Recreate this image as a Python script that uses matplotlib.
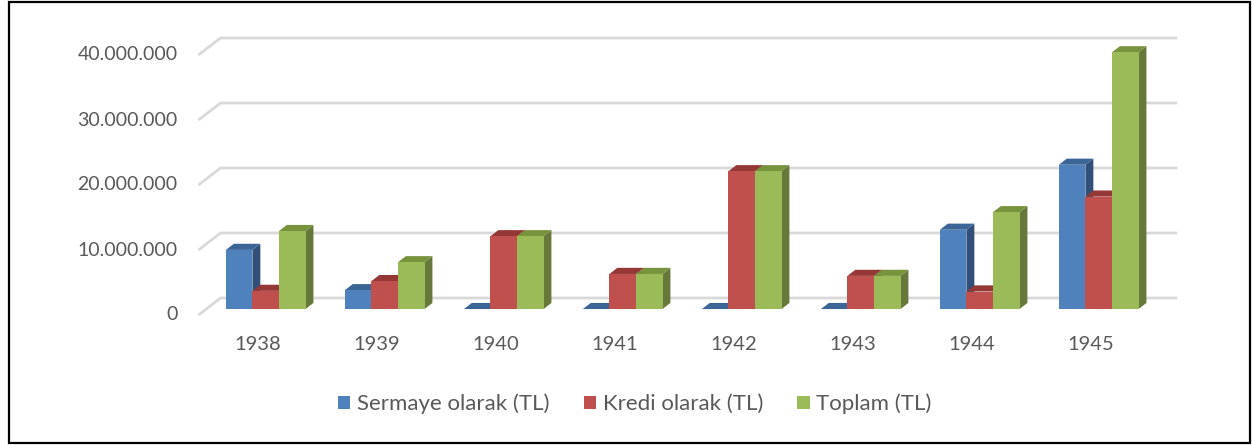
import matplotlib.pyplot as plt
from matplotlib.patches import Polygon, Patch, Rectangle
import numpy as np

plt.rcParams['font.family'] = ['Lato', 'DejaVu Sans']

years = ['1938', '1939', '1940', '1941', '1942', '1943', '1944', '1945']
sermaye = [9.1e6, 2.9e6, 0, 0, 0, 0, 12.2e6, 22.2e6]
kredi = [2.8e6, 4.3e6, 11.2e6, 5.4e6, 21.2e6, 5.1e6, 2.7e6, 17.3e6]
toplam = [12.0e6, 7.2e6, 11.2e6, 5.4e6, 21.2e6, 5.1e6, 14.9e6, 39.5e6]
series_names = ['Sermaye olarak (TL)', 'Kredi olarak (TL)', 'Toplam (TL)']
yticks = [0, 10e6, 20e6, 30e6, 40e6]
ytick_labels = ['0', '10.000.000', '20.000.000', '30.000.000', '40.000.000']

# front / top / side colours per series
front_c = ['#4F81BD', '#C0504D', '#9BBB59']
top_c = ['#3C6597', '#943735', '#77933C']
side_c = ['#30507A', '#7E2E2C', '#66793A']

# oblique projection: one unit of depth moves right and up
ddx = 22 / 119.0
ddy = 17 / 65.0 * 1e7
d0 = 0.35      # front of bars inside floor
bd = 0.36      # depth of bars
w = 0.223      # bar width

fig = plt.figure(figsize=(12.52, 4.45), dpi=100)
ax = fig.add_axes([0, 0, 1, 1])
ax.set_xlim(-258 / 119.0, (1252 - 258) / 119.0)
ax.set_ylim(-130 / 65.0 * 1e7, 315 / 65.0 * 1e7)
ax.axis('off')

# gridlines: side wall diagonal + back wall
x_left, x_right = -0.5, 7.54
for v in yticks:
    ax.plot([x_left, x_left + ddx, x_right + ddx], [v, v + ddy, v + ddy],
            color='#D9D9D9', lw=2, zorder=1, solid_capstyle='butt')

for k, lab in zip(yticks, ytick_labels):
    ax.annotate(lab, (x_left, k), xytext=(-15, 0), textcoords='offset points',
                ha='right', va='center', fontsize=14, color='#595959')

for i, y in enumerate(years):
    ax.annotate(y, (i, 0), xytext=(0, -21), textcoords='offset points',
                ha='center', va='center', fontsize=14.5, color='#595959')

data = [sermaye, kredi, toplam]
z = 2
xs = np.arange(len(years))
for i in xs:
    for s in range(3):
        v = data[s][i]
        x0 = i + d0 * ddx + (s - 1.5) * w
        x1 = x0 + w
        yb = d0 * ddy
        ox, oy = bd * ddx, bd * ddy
        side = Polygon([(x1, yb), (x1 + ox, yb + oy), (x1 + ox, yb + v + oy), (x1, yb + v)],
                       closed=True, fc=side_c[s], lw=0, zorder=z)
        top = Polygon([(x0, yb + v), (x1, yb + v), (x1 + ox, yb + v + oy), (x0 + ox, yb + v + oy)],
                      closed=True, fc=top_c[s], lw=0, zorder=z + 1)
        ax.add_patch(side)
        ax.add_patch(top)
        ax.bar(x0, v, width=w, bottom=yb, align='edge', color=front_c[s], lw=0, zorder=z + 2)
        z += 3

handles = [Patch(fc=c, lw=0) for c in front_c]
fig.legend(handles, series_names, loc='center', bbox_to_anchor=(0.507, 1 - 404 / 445.0),
           ncol=3, frameon=False, fontsize=16, handlelength=0.55, handleheight=0.55,
           handletextpad=0.3, columnspacing=1.55, labelcolor='#595959')

fig.add_artist(Rectangle((9 / 1252, 2 / 445), 1241 / 1252, 441 / 445,
                         transform=fig.transFigure, fill=False, ec='black', lw=1.6))

fig.savefig('out.png', dpi=100)
